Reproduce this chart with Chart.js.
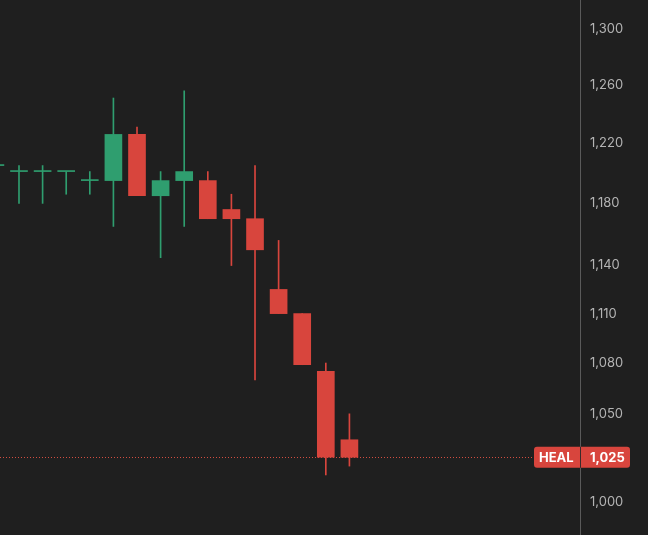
<!DOCTYPE html>
<html>
<head>
<meta charset="utf-8">
<script src="https://cdn.jsdelivr.net/npm/chart.js@4"></script>
<style>
  html, body { margin: 0; padding: 0; background: #1f1f1f; }
  canvas { display: block; }
</style>
</head>
<body>
<canvas id="myChart" width="648" height="535"></canvas>
<script>
// one slot per session
slots  = [0, 1, 2, 3, 4, 5, 6, 7, 8, 9, 10, 11, 12, 13, 14, 15];
opens  = [1205, 1201, 1201, 1201, 1195, 1195, 1226, 1185, 1195, 1195, 1176, 1170, 1125, 1110, 1075, 1035];
highs  = [1207, 1205, 1205, 1201, 1201, 1251, 1231, 1201, 1256, 1201, 1186, 1205, 1156, 1110, 1080, 1050];
lows   = [1199, 1180, 1180, 1186, 1186, 1165, 1185, 1145, 1165, 1170, 1140, 1070, 1110, 1079, 1015, 1020];
closes = [1205, 1201, 1201, 1201, 1195, 1226, 1185, 1195, 1201, 1170, 1170, 1150, 1110, 1079, 1025, 1025];
yTicks = [1000, 1050, 1080, 1110, 1140, 1180, 1220, 1260, 1300];
lastPrice = 1025;
symbol = "HEAL";

const UP = "#2f9e6f";
const DOWN = "#d8453d";

const colors = slots.map(i => closes[i] >= opens[i] ? UP : DOWN);

const priceTag = {
  id: "priceTag",
  beforeDatasetsDraw(chart) {
    const ctx = chart.ctx;
    const y = Math.round(chart.scales.y.getPixelForValue(lastPrice)) + 0.5;
    ctx.save();
    ctx.strokeStyle = "rgba(220,80,66,0.95)";
    ctx.lineWidth = 1;
    ctx.setLineDash([1, 2]);
    ctx.beginPath();
    ctx.moveTo(0, y);
    ctx.lineTo(534, y);
    ctx.stroke();
    ctx.restore();
  },
  afterDraw(chart) {
    const ctx = chart.ctx;
    const area = chart.chartArea;
    const y = chart.scales.y.getPixelForValue(lastPrice);
    ctx.save();
    ctx.fillStyle = DOWN;
    ctx.beginPath();
    ctx.roundRect(534, y - 10.5, 96, 21, 3);
    ctx.fill();
    ctx.fillStyle = "#ffffff";
    ctx.font = "bold 13px Inter";
    ctx.textBaseline = "middle";
    ctx.fillText(symbol, 539, y + 1);
    ctx.fillText(lastPrice.toLocaleString("en-US"), 590, y + 1);
    // axis line runs over the tag
    ctx.strokeStyle = "rgba(40,40,40,0.9)";
    ctx.lineWidth = 1;
    ctx.beginPath();
    ctx.moveTo(area.right + 0.5, y - 10.5);
    ctx.lineTo(area.right + 0.5, y + 10.5);
    ctx.stroke();
    ctx.restore();
  }
};

new Chart(document.getElementById("myChart"), {
  type: "bar",
  data: {
    datasets: [
      {
        label: "body",
        data: slots.map(i => ({ x: i, y: [opens[i], closes[i]] })),
        backgroundColor: colors,
        barThickness: 17,
        minBarLength: 1,
        grouped: false
      },
      {
        label: "wick",
        data: slots.map(i => ({ x: i, y: [lows[i], highs[i]] })),
        backgroundColor: colors,
        barThickness: 1,
        grouped: false
      }
    ]
  },
  options: {
    responsive: false,
    animation: false,
    devicePixelRatio: 1,
    layout: { padding: 0 },
    plugins: { legend: { display: false }, tooltip: { enabled: false } },
    scales: {
      x: {
        type: "linear",
        min: 0.195,
        max: 24.77,
        offset: false,
        display: false
      },
      y: {
        type: "logarithmic",
        position: "right",
        min: 981.75,
        max: 1320.9,
        grid: { display: false, drawTicks: false },
        border: { display: true, color: "#5a5a5a" },
        afterBuildTicks(scale) {
          scale.ticks = yTicks.map(v => ({ value: v }));
        },
        afterFit(scale) {
          scale.width = 68;
          scale.paddingTop = 0;
          scale.paddingBottom = 0;
        },
        ticks: {
          padding: 10,
          color: "#b4b4b4",
          font: { family: "Inter", size: 13 },
          callback: v => v.toLocaleString("en-US")
        }
      }
    }
  },
  plugins: [priceTag]
});
</script>
</body>
</html>
